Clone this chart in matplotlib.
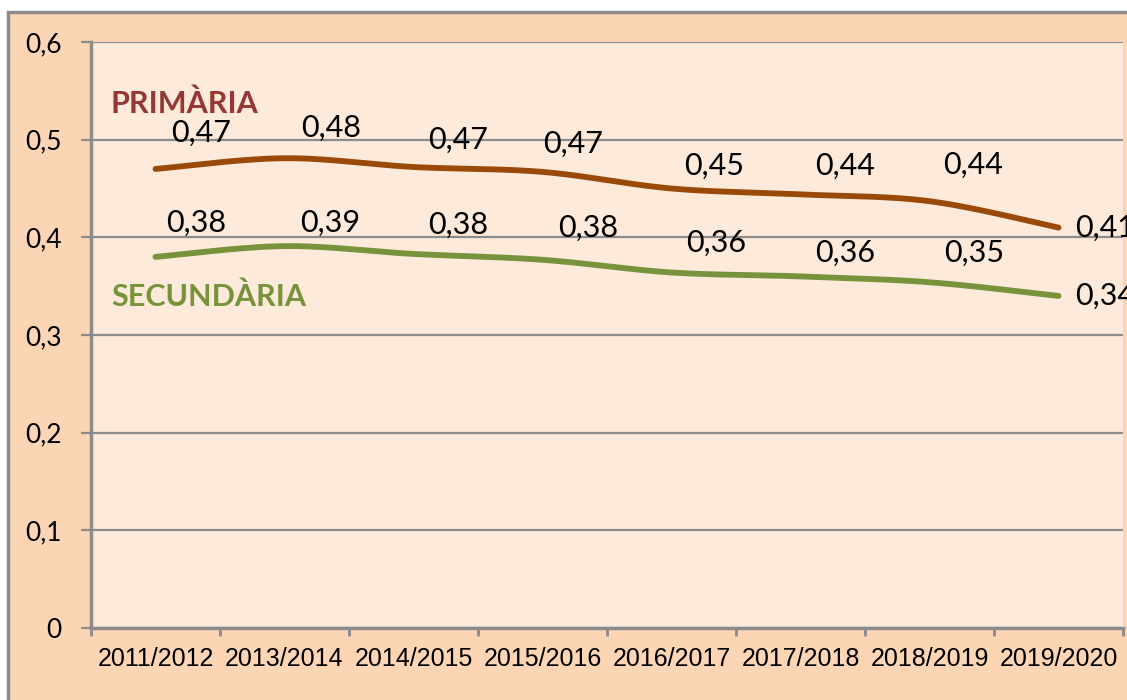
import numpy as np
import matplotlib.pyplot as plt
from matplotlib.patches import Rectangle

CURSOS = ['2011/2012', '2013/2014', '2014/2015', '2015/2016',
          '2016/2017', '2017/2018', '2018/2019', '2019/2020']
PRIMARIA = [0.47, 0.481, 0.472, 0.467, 0.45, 0.444, 0.437, 0.41]
SECUNDARIA = [0.38, 0.391, 0.383, 0.377, 0.364, 0.36, 0.354, 0.34]

# desplaçaments de les etiquetes (px) respecte al punt
OFF_PRIM = [(46, 36), (47, 30), (45, 27), (31, 28), (43, 23), (45, 29), (44, 36)]
OFF_SEC = [(41, 34), (46, 23), (45, 29), (46, 32), (45, 30), (45, 24), (45, 29)]

COR_PRIM = '#9A4A08'
COR_SEC = '#77933C'
COR_TITOL_PRIM = '#953735'
COR_GRIS = '#8C8C8C'
FONS_FIG = '#FCD5B5'
FONS_AX = '#FDEADA'
FONT = ['Lato', 'DejaVu Sans']
PX = 0.72  # punts per pixel a dpi 100


def corba_suau(xs, ys, n=40):
    # bezier tipus excel entre punts consecutius
    xs = np.asarray(xs, float)
    ys = np.asarray(ys, float)
    px = np.concatenate([[xs[0]], xs, [xs[-1]]])
    py = np.concatenate([[ys[0]], ys, [ys[-1]]])
    out_x, out_y = [], []
    t = np.linspace(0, 1, n)
    for i in range(1, len(px) - 2):
        p0x, p1x, p2x, p3x = px[i - 1], px[i], px[i + 1], px[i + 2]
        p0y, p1y, p2y, p3y = py[i - 1], py[i], py[i + 1], py[i + 2]
        c1x, c1y = p1x + (p2x - p0x) / 6, p1y + (p2y - p0y) / 6
        c2x, c2y = p2x - (p3x - p1x) / 6, p2y - (p3y - p1y) / 6
        bx = (1 - t) ** 3 * p1x + 3 * (1 - t) ** 2 * t * c1x + 3 * (1 - t) * t ** 2 * c2x + t ** 3 * p2x
        by = (1 - t) ** 3 * p1y + 3 * (1 - t) ** 2 * t * c1y + 3 * (1 - t) * t ** 2 * c2y + t ** 3 * p2y
        out_x.extend(bx)
        out_y.extend(by)
    return np.array(out_x), np.array(out_y)


def fmt(v):
    return f"{v:.2f}".replace('.', ',')


fig = plt.figure(figsize=(11.27, 7), dpi=100, facecolor='white')
fons = Rectangle((8 / 1127, -0.1), 1.2, 1 - 12 / 700 + 0.1,
                 transform=fig.transFigure, facecolor=FONS_FIG,
                 edgecolor=COR_GRIS, linewidth=2.5, zorder=-10)
fig.patches.append(fons)

ax = fig.add_axes([91 / 1127, 72 / 700, (1123 - 91) / 1127, (628 - 42) / 700])
ax.set_zorder(1)
ax.set_facecolor(FONS_AX)

x = np.arange(len(CURSOS))
ax.set_xlim(-0.5, len(CURSOS) - 0.5)
ax.set_ylim(0, 0.6)

yt = np.arange(0, 0.61, 0.1)
ax.set_yticks(yt)
ax.set_yticklabels(['0'] + [f"{v:.1f}".replace('.', ',') for v in yt[1:]],
                   fontsize=19, family=FONT)
ax.yaxis.grid(True, color=COR_GRIS, linewidth=1.6)
ax.set_axisbelow(True)
ax.tick_params(axis='y', length=7, width=1.6, color=COR_GRIS, pad=14)

ax.set_xticks(np.arange(-0.5, len(CURSOS), 1))
ax.set_xticklabels([])
ax.set_xticks(x, minor=True)
ax.set_xticklabels(CURSOS, minor=True, fontsize=18,
                   family=['Liberation Sans', 'DejaVu Sans'])
ax.tick_params(axis='x', which='major', length=6, width=2, color=COR_GRIS)
ax.tick_params(axis='x', which='minor', length=0, pad=14)

for s in ['top', 'right']:
    ax.spines[s].set_visible(False)
for s in ['left', 'bottom']:
    ax.spines[s].set_color(COR_GRIS)
    ax.spines[s].set_linewidth(2.5)

for vals, cor, offs in [(PRIMARIA, COR_PRIM, OFF_PRIM), (SECUNDARIA, COR_SEC, OFF_SEC)]:
    cx, cy = corba_suau(x, vals)
    ax.plot(cx, cy, color=cor, linewidth=4.2, solid_capstyle='round', zorder=3)
    for i, v in enumerate(vals):
        if i < len(offs):
            dx, dy = offs[i]
            ax.annotate(fmt(v), (x[i], v), xytext=(dx * PX, dy * PX),
                        textcoords='offset points', ha='center', va='center',
                        fontsize=22, family=FONT, color='black', zorder=4)
        else:
            ax.annotate(fmt(v), (x[i], v), xytext=(17 * PX, 0),
                        textcoords='offset points', ha='left', va='center',
                        fontsize=22, family=FONT, color='black', zorder=4,
                        annotation_clip=False)

ax.text(-0.345, 0.537, 'PRIMÀRIA', color=COR_TITOL_PRIM, fontsize=22,
        fontweight='bold', family=FONT, ha='left', va='center')
ax.text(-0.345, 0.339, 'SECUNDÀRIA', color=COR_SEC, fontsize=22,
        fontweight='bold', family=FONT, ha='left', va='center')

fig.savefig('out.png', dpi=100, facecolor=fig.get_facecolor())
